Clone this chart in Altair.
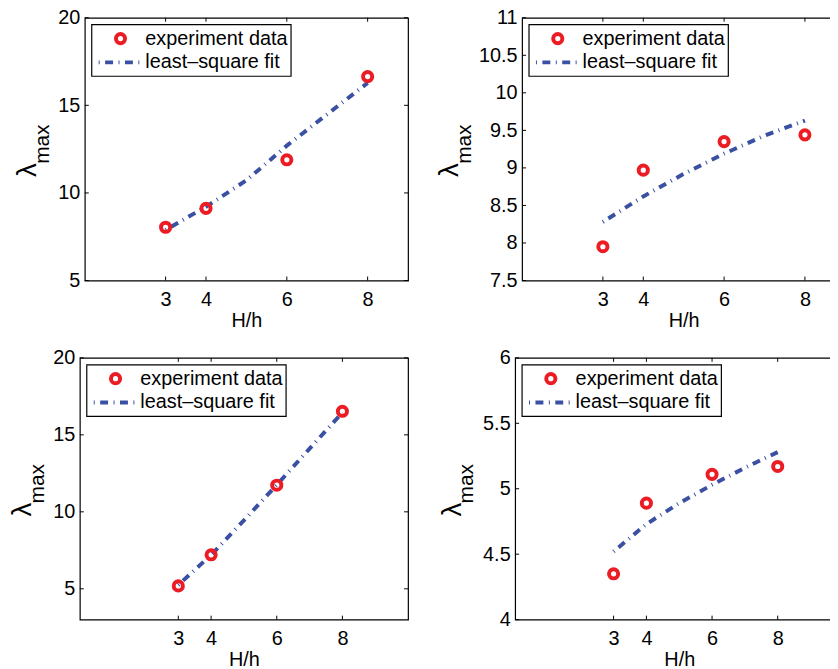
import altair as alt
import pandas as pd

# ---------------- data ----------------
x_exp = [3, 4, 6, 8]
x_fit = [3, 4, 5, 6, 7, 8]
x_ticks = [3, 4, 6, 8]
series_names = ["experiment data", "least–square fit"]

exp_a = [8.04, 9.12, 11.89, 16.64]
fit_a = [7.89, 9.21, 10.72, 12.70, 14.49, 16.28]
exp_b = [7.95, 8.97, 9.35, 9.44]
fit_b = [8.28, 8.62, 8.92, 9.19, 9.43, 9.63]
exp_c = [5.19, 7.21, 11.73, 16.53]
fit_c = [5.25, 7.20, 9.45, 11.75, 14.10, 16.45]
exp_d = [4.35, 4.89, 5.11, 5.17]
fit_d = [4.52, 4.73, 4.89, 5.03, 5.16, 5.28]

yticks_a = [5, 10, 15, 20]
yticks_b = [7.5, 8, 8.5, 9, 9.5, 10, 10.5, 11]
yticks_c = [5, 10, 15, 20]
yticks_d = [4, 4.5, 5, 5.5, 6]

FONT = "Liberation Sans"
RED = "#ec1c24"
BLUE = "#3a50a3"
DASH = [1, 5.5, 8, 5.5]
TICK = 4


def panel(w, h, xdom, ydom, yticks, exp_y, fit_y, lam_dx, max_dx, title_x=None):
    xs = alt.Scale(domain=xdom, nice=False, zero=False)
    ys = alt.Scale(domain=ydom, nice=False, zero=False)
    xaxis_kw = dict(values=x_ticks, title="H/h", ticks=False, domain=False, grid=False,
                    labelPadding=9, titlePadding=1, format="~g")
    if title_x is not None:
        xaxis_kw["titleX"] = title_x
    xaxis = alt.Axis(**xaxis_kw)
    yaxis = alt.Axis(values=yticks, title=None, ticks=False, domain=False, grid=False,
                     labelPadding=5, format="~g")
    exp_df = pd.DataFrame({"H/h": x_exp, "lam": exp_y})
    fit_df = pd.DataFrame({"H/h": x_fit, "lam": fit_y})
    one = pd.DataFrame({"k": [0]})

    X = lambda f: alt.X(f, scale=xs, axis=xaxis, title="H/h")
    Y = lambda f: alt.Y(f, scale=ys, axis=yaxis, title=None)

    line = alt.Chart(fit_df).mark_line(color=BLUE, strokeWidth=4, strokeDash=DASH,
                                       strokeCap="butt").encode(
        x=X("H/h:Q"), y=Y("lam:Q"))
    pts = alt.Chart(exp_df).mark_point(shape="circle", filled=False, color=RED,
                                       strokeWidth=4, size=85, opacity=1).encode(
        x=X("H/h:Q"), y=Y("lam:Q"))
    xt = pd.DataFrame({"t": x_ticks})
    yt = pd.DataFrame({"t": yticks})
    tb = alt.Chart(xt).mark_rule(color="black", strokeWidth=1).encode(
        x=X("t:Q"), y=alt.value(h), y2=alt.value(h - TICK))
    tt = alt.Chart(xt).mark_rule(color="black", strokeWidth=1).encode(
        x=X("t:Q"), y=alt.value(0), y2=alt.value(TICK))
    tl = alt.Chart(yt).mark_rule(color="black", strokeWidth=1).encode(
        y=Y("t:Q"), x=alt.value(0), x2=alt.value(TICK))
    tr = alt.Chart(yt).mark_rule(color="black", strokeWidth=1).encode(
        y=Y("t:Q"), x=alt.value(w), x2=alt.value(w - TICK))

    # y-axis title: lambda with subscript "max"
    lam = alt.Chart(one).mark_text(text="λ", font=FONT, fontSize=28, angle=270,
                                   align="center", baseline="alphabetic", color="black").encode(
        x=alt.value(lam_dx), y=alt.value(h / 2 + 21))
    mx = alt.Chart(one).mark_text(text="max", font=FONT, fontSize=21, angle=270,
                                  align="center", baseline="alphabetic", color="black").encode(
        x=alt.value(max_dx), y=alt.value(h / 2 - 5))

    # legend box
    box = alt.Chart(one).mark_rect(fill="white", stroke="black", strokeWidth=1.2).encode(
        x=alt.value(7), x2=alt.value(208), y=alt.value(7), y2=alt.value(59))
    lp = alt.Chart(one).mark_point(shape="circle", filled=False, color=RED,
                                   strokeWidth=4, size=85, opacity=1).encode(
        x=alt.value(36), y=alt.value(21))
    ll = alt.Chart(one).mark_rule(color=BLUE, strokeWidth=4, strokeDash=DASH,
                                  strokeCap="butt").encode(
        x=alt.value(14), x2=alt.value(56), y=alt.value(45))
    t1 = alt.Chart(one).mark_text(text=series_names[0], font=FONT, fontSize=20,
                                  align="left", baseline="middle", color="black").encode(
        x=alt.value(61), y=alt.value(21))
    t2 = alt.Chart(one).mark_text(text=series_names[1], font=FONT, fontSize=20,
                                  align="left", baseline="middle", color="black").encode(
        x=alt.value(61), y=alt.value(45))

    return alt.layer(line, pts, tb, tt, tl, tr, lam, mx, box, lp, ll, t1, t2).properties(
        width=w, height=h)


W2 = 322
W4 = 334
p1 = panel(326, 265, [1, 9], [5, 20], yticks_a, exp_a, fit_a, -49, -36)
p2 = panel(W2, 265, [1, 1 + W2 / 40.75], [7.5, 11], yticks_b, exp_b, fit_b, -65, -52,
           title_x=163)
p3 = panel(331, 264, [0, 10], [3, 20], yticks_c, exp_c, fit_c, -49, -36)
p4 = panel(W4, 264, [0, W4 / 33.1], [4, 6], yticks_d, exp_d, fit_d, -55, -42,
           title_x=165.5)

row1 = alt.hconcat(p1, p2, spacing=25)
row2 = alt.hconcat(p3, p4, spacing=28)

chart = alt.vconcat(row1, row2, spacing=16, center=True).properties(
    padding={"left": 0, "top": -4, "right": -18, "bottom": 0}
).configure_view(
    stroke="black", strokeWidth=1.2
).configure_axis(
    labelFont=FONT, titleFont=FONT, labelFontSize=20, titleFontSize=20,
    labelColor="black", titleColor="black", titleFontWeight="normal"
)

chart.save("out.html", embed_options={"renderer": "svg", "actions": False})
